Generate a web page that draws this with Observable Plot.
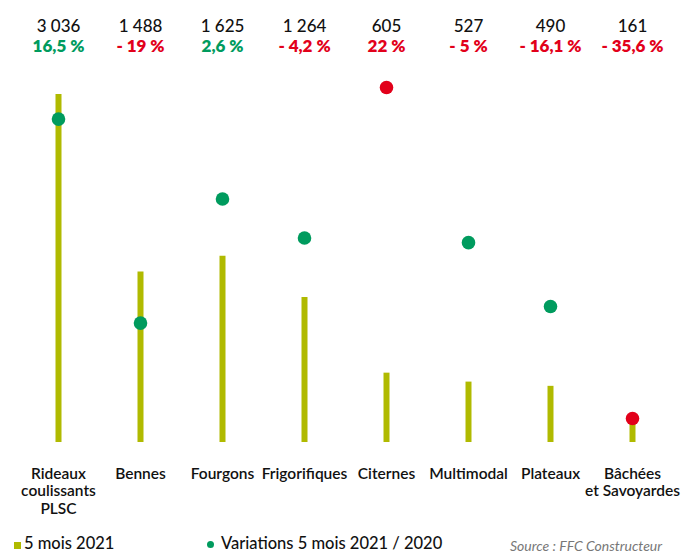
<!DOCTYPE html>
<html>
<head>
<meta charset="utf-8">
<script src="https://cdn.jsdelivr.net/npm/d3@7"></script>
<script src="https://cdn.jsdelivr.net/npm/@observablehq/plot@0.6"></script>
<style>
  html, body { margin: 0; padding: 0; background: #fff; }
  #chart { position: relative; width: 686px; height: 553px; overflow: hidden; font-family: Lato, sans-serif; }
  #chart svg { position: absolute; left: 0; top: 0; }
  .legend { position: absolute; left: 0; top: 0; width: 686px; height: 553px; font-size: 16.5px; font-weight: 500; color: #111; }
  .legend .t { position: absolute; top: 535px; line-height: 17px; white-space: nowrap; }
  .sw-bar { position: absolute; left: 14px; top: 542px; width: 7px; height: 7px; background: #b0ba00; }
  .sw-dot { position: absolute; left: 207px; top: 541px; width: 7px; height: 7px; border-radius: 50%; background: #009b5e; }
  .legend .source { font-style: italic; font-weight: 400; color: #777; font-size: 14px; line-height: 14px; top: 539px; }
</style>
</head>
<body>
<div id="chart">
  <div class="legend">
    <div class="sw-bar"></div>
    <span class="t" style="left:24px">5 mois 2021</span>
    <div class="sw-dot"></div>
    <span class="t" style="left:221px">Variations 5 mois 2021 / 2020</span>
    <span class="t source" style="left:510px">Source : FFC Constructeur</span>
  </div>
</div>
<script>
// Immatriculations par famille de carrosserie, cumul 5 mois 2021
const categories = [
  "Rideaux\ncoulissants\nPLSC", "Bennes", "Fourgons", "Frigorifiques",
  "Citernes", "Multimodal", "Plateaux", "Bâchées\net Savoyardes"
];
const volumes2021 = [3036, 1488, 1625, 1264, 605, 527, 490, 161];
const variations = [16.5, -19, 2.6, -4.2, 22, -5, -16.1, -35.6];

const OLIVE = "#b0ba00", GREEN = "#009b5e", RED = "#e2001a";
const W = 686, H = 553;

const rows = categories.map((c, i) => ({cat: c, vol: volumes2021[i], varPct: variations[i]}));

// Extreme variations (highest and lowest) are highlighted in red
const vMax = d3.max(variations), vMin = d3.min(variations);
const isExtreme = d => d.varPct === vMax || d.varPct === vMin;

const fmtVol = v => d3.format(",")(v).replace(/,/g, " ");
const fmtPct = v => (v < 0 ? "- " : "") + String(Math.abs(v)).replace(".", ",") + " %";

const xOpts = {type: "point", domain: categories, padding: 0, axis: null};
const margins = {marginLeft: 56, marginRight: 52};

// Volumes: thin bars, top labels and category names
const bars = Plot.plot({
  width: W, height: H,
  ...margins, marginTop: 94, marginBottom: 111,
  x: xOpts,
  y: {domain: [0, d3.max(volumes2021)], axis: null},
  style: {fontFamily: "Lato, sans-serif", background: "transparent", overflow: "visible"},
  marks: [
    Plot.ruleX(rows, {x: "cat", y1: 0, y2: "vol", stroke: OLIVE, strokeWidth: 6}),
    Plot.text(rows, {x: "cat", frameAnchor: "top", dy: -75, text: d => fmtVol(d.vol),
      fontSize: 17, fontWeight: 500, fill: "#111"}),
    Plot.text(rows, {x: "cat", frameAnchor: "top", dy: -55, text: d => fmtPct(d.varPct),
      fontSize: 17, fontWeight: 800,
      fill: d => (d.varPct < 0 || isExtreme(d)) ? RED : GREEN}),
    Plot.text(rows, {x: "cat", frameAnchor: "bottom", dy: 24, lineAnchor: "top",
      lineHeight: 1.13, text: "cat", fontSize: 15.5, fontWeight: 600, fill: "#111"})
  ]
});

// Variations: dots on their own vertical scale
const dots = Plot.plot({
  width: W, height: H,
  ...margins, marginTop: 87, marginBottom: 135,
  x: xOpts,
  y: {domain: [vMin, vMax], axis: null},
  style: {background: "transparent", overflow: "visible"},
  marks: [
    Plot.dot(rows, {x: "cat", y: "varPct", r: 6.8, fill: d => isExtreme(d) ? RED : GREEN, stroke: "none"})
  ]
});

const chart = document.getElementById("chart");
chart.insertBefore(dots, chart.firstChild);
chart.insertBefore(bars, chart.firstChild);
</script>
</body>
</html>
